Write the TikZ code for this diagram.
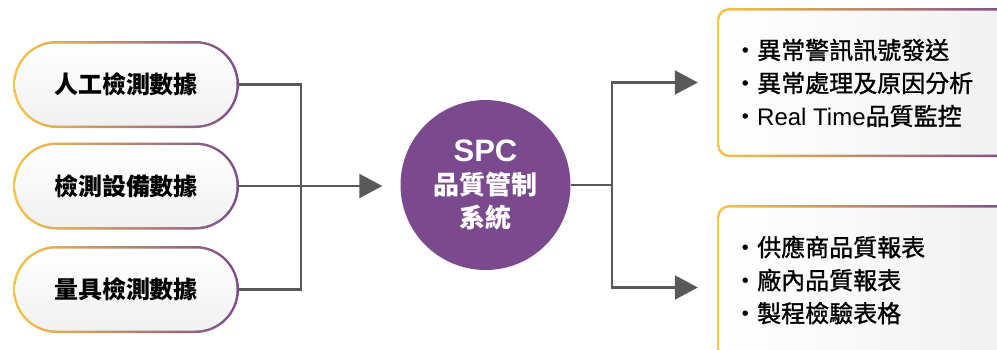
\documentclass[tikz,border=0pt]{standalone}
\usepackage{fontspec}
\newfontfamily\cjk{Noto Sans CJK TC}
\newfontfamily\cjkmed[FakeBold=1.2]{Noto Sans CJK TC}
\newfontfamily\latn{Liberation Sans}
\usetikzlibrary{arrows.meta,shapes.misc}
\definecolor{gold}{HTML}{F7C548}
\definecolor{plum}{HTML}{7B4A8E}
\definecolor{conn}{HTML}{595959}
\definecolor{paleA}{HTML}{FFFFFF}
\definecolor{paleB}{HTML}{F1F1F1}
\begin{document}
\begin{tikzpicture}[x=1pt,y=-1pt,
  pillrim/.style={shape=rounded rectangle, minimum width=226pt, minimum height=87pt, left color=gold, right color=plum, inner sep=0pt, draw=none},
  pillbody/.style={shape=rounded rectangle, minimum width=221pt, minimum height=82pt, top color=paleA, bottom color=paleB, inner sep=0pt, draw=none, font=\cjk\bfseries\fontsize{24}{28}\selectfont},
  boxrim/.style={shape=rectangle, rounded corners=12pt, minimum width=300pt, left color=gold, right color=plum, inner sep=0pt, draw=none},
  boxbody/.style={shape=rectangle, rounded corners=10pt, minimum width=295pt, left color=paleA, right color=paleB, inner sep=0pt, draw=none},
  boxtext/.style={anchor=west, align=left, inner sep=0pt, font=\cjkmed\fontsize{24}{33}\selectfont},
  hub/.style={circle, fill=plum, minimum size=170pt, inner sep=0pt, text=white, align=center, font=\cjk\bfseries\fontsize{26}{33}\selectfont},
  link/.style={draw=conn, line width=2.2pt},
  flow/.style={link, -{Triangle[length=23pt,width=24pt]}}
]
\useasboundingbox (0,0) rectangle (997,349);
\clip (0,0) rectangle (997,349);

% left pills
\node[pillrim] (r1) at (126,84.5) {};
\node[pillbody] (p1) at (126,84.5) {人工檢測數據};
\node[pillrim] (r2) at (126,186) {};
\node[pillbody] (p2) at (126,186) {檢測設備數據};
\node[pillrim] (r3) at (126,289.5) {};
\node[pillbody] (p3) at (126,289.5) {量具檢測數據};

% hub
\node[hub] (spc) at (485.5,185) {{\latn\bfseries\fontsize{31}{33}\selectfont SPC}\\品質管制\\系統};

% right boxes
\node[boxrim, minimum height=149pt] (b1) at (867,82.5) {};
\node[boxbody, minimum height=144pt] (c1) at (867,82.5) {};
\node[boxrim, minimum height=165pt] (b2) at (867,287.5) {};
\node[boxbody, minimum height=160pt] (c2) at (867,287.5) {};

\node[boxtext] (t1) at (733,83) {・異常警訊訊號發送\\・異常處理及原因分析\\・{\latn Real Time}品質監控};
\node[boxtext] (t2) at (733,280) {・供應商品質報表\\・廠內品質報表\\・製程檢驗表格};

% connectors
\coordinate (lj) at (301,185);
\coordinate (rj) at (612,185);
\draw[link] (r1.east) -| (lj) |- (r3.east);
\draw[flow, shorten >=18pt] (r2.east) -- (r2.east -| spc.west);
\draw[link] (spc.east) -- (rj);
\draw[flow, shorten >=19pt] (rj) |- (b1.west);
\draw[flow, shorten >=19pt] (rj) |- (b2.west);
\end{tikzpicture}
\end{document}
